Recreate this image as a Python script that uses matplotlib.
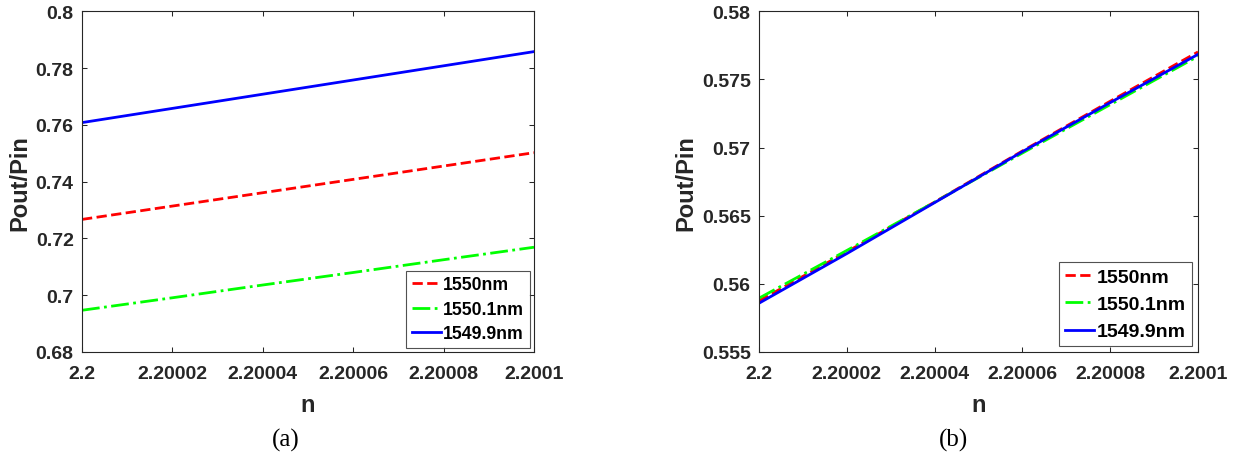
import matplotlib
matplotlib.use("Agg")
import matplotlib.pyplot as plt

# ---------------- data ----------------
n_vals = [2.2, 2.20002, 2.20004, 2.20006, 2.20008, 2.2001]
x_ticks = [2.2, 2.20002, 2.20004, 2.20006, 2.20008, 2.2001]
x_ticklabels = ['2.2', '2.20002', '2.20004', '2.20006', '2.20008', '2.2001']

series_labels = ['1550nm', '1550.1nm', '1549.9nm']

# panel (a)
a_1550 = [0.7267, 0.7314, 0.7361, 0.7408, 0.7455, 0.7502]
a_15501 = [0.6947, 0.6991, 0.7036, 0.7080, 0.7125, 0.7169]
a_15499 = [0.7608, 0.7658, 0.7708, 0.7758, 0.7808, 0.7858]
a_yticks = [0.68, 0.70, 0.72, 0.74, 0.76, 0.78, 0.80]
a_yticklabels = ['0.68', '0.7', '0.72', '0.74', '0.76', '0.78', '0.8']

# panel (b)
b_1550 = [0.55875, 0.56235, 0.56600, 0.56975, 0.57340, 0.57702]
b_15501 = [0.55895, 0.56245, 0.56600, 0.56960, 0.57315, 0.57670]
b_15499 = [0.55858, 0.56222, 0.56596, 0.56970, 0.57330, 0.57684]
b_yticks = [0.555, 0.56, 0.565, 0.57, 0.575, 0.58]
b_yticklabels = ['0.555', '0.56', '0.565', '0.57', '0.575', '0.58']

# ---------------- style ----------------
SANS = ['Liberation Sans', 'DejaVu Sans']
SERIF = ['Liberation Serif', 'DejaVu Serif']
DARK = (0.15, 0.15, 0.15)

plt.rcParams['font.family'] = SANS
plt.rcParams['font.weight'] = 'bold'
plt.rcParams['axes.labelweight'] = 'bold'

fig = plt.figure(figsize=(12.38, 4.56), dpi=100)
W, H = 1238.0, 456.0


def make_axes(x0, x1, y_top, y_bot):
    return fig.add_axes([x0 / W, 1 - y_bot / H, (x1 - x0) / W, (y_bot - y_top) / H])


ax_a = make_axes(82, 534, 12.3, 353)
ax_b = make_axes(759, 1198, 12.3, 353)


def style(ax, ylim, yticks, yticklabels, legend_fs, handlelength, labelspacing,
          axespad, panel_x, panel_text):
    ax.set_xlim(2.2, 2.2001)
    ax.set_ylim(*ylim)
    ax.set_xticks(x_ticks)
    ax.set_xticklabels(x_ticklabels, fontweight='bold')
    ax.set_yticks(yticks)
    ax.set_yticklabels(yticklabels, fontweight='bold')
    for sp in ax.spines.values():
        sp.set_color(DARK)
        sp.set_linewidth(0.8)
    ax.tick_params(axis='both', direction='in', top=True, right=True,
                   length=3.6, width=0.75, color=DARK, labelcolor=DARK,
                   labelsize=14)
    ax.tick_params(axis='x', pad=9.5)
    ax.tick_params(axis='y', pad=6)
    ax.set_xlabel('n', fontsize=17, fontweight='bold', color=DARK, labelpad=8)
    ax.set_ylabel('Pout/Pin', fontsize=17, fontweight='bold', color=DARK, labelpad=3)
    leg = ax.legend(loc='lower right', prop={'family': SANS, 'weight': 'bold', 'size': legend_fs},
                    handlelength=handlelength, handletextpad=0.15, labelspacing=labelspacing,
                    borderpad=0.3, borderaxespad=axespad, frameon=True, fancybox=False)
    leg.get_frame().set_edgecolor(DARK)
    leg.get_frame().set_linewidth(0.8)
    fig.text(panel_x / W, 1 - 447 / H, panel_text, ha='center', va='baseline',
             fontsize=18, family=SERIF, fontweight='normal', color='black')


lw = 2.0
ax_a.plot(n_vals, a_1550, color='red', linestyle='--', linewidth=lw, label=series_labels[0])
ax_a.plot(n_vals, a_15501, color=(0, 1, 0), linestyle='-.', linewidth=lw, label=series_labels[1])
ax_a.plot(n_vals, a_15499, color='blue', linestyle='-', linewidth=lw, label=series_labels[2])
style(ax_a, (0.68, 0.80), a_yticks, a_yticklabels, 12.7, 1.64, 0.42, 0.25, 285.5, '(a)')

ax_b.plot(n_vals, b_1550, color='red', linestyle='--', linewidth=lw, label=series_labels[0])
ax_b.plot(n_vals, b_15501, color=(0, 1, 0), linestyle='-.', linewidth=lw, label=series_labels[1])
ax_b.plot(n_vals, b_15499, color='blue', linestyle='-', linewidth=lw, label=series_labels[2])
style(ax_b, (0.555, 0.58), b_yticks, b_yticklabels, 14, 1.49, 0.5, 0.3, 953, '(b)')

fig.savefig('out.png', dpi=100)
